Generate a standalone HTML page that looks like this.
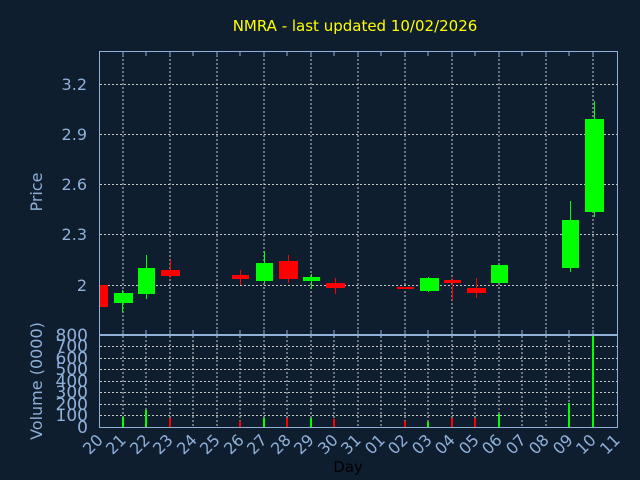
<!DOCTYPE html>
<html><head><meta charset="utf-8"><style>
html,body{margin:0;padding:0;background:#0f1e2f;}
svg{display:block;font-family:"DejaVu Sans","Liberation Sans",sans-serif;}
</style></head><body>
<svg width="640" height="480" xmlns="http://www.w3.org/2000/svg">
<rect width="640" height="480" fill="#0f1e2f"/>
<text x="355" y="31" fill="#ffff00" font-size="15" text-anchor="middle">NMRA - last updated 10/02/2026</text>
<g stroke="#c8c8c8" stroke-width="1" stroke-dasharray="2,2" fill="none">
<line x1="100" x2="617" y1="84.5" y2="84.5"/>
<line x1="100" x2="617" y1="134.5" y2="134.5"/>
<line x1="100" x2="617" y1="184.5" y2="184.5"/>
<line x1="100" x2="617" y1="234.5" y2="234.5"/>
<line x1="100" x2="617" y1="285.5" y2="285.5"/>
<line x1="123" x2="123" y1="51" y2="334"/>
<line x1="170" x2="170" y1="51" y2="334"/>
<line x1="217" x2="217" y1="51" y2="334"/>
<line x1="264" x2="264" y1="51" y2="334"/>
<line x1="311" x2="311" y1="51" y2="334"/>
<line x1="358" x2="358" y1="51" y2="334"/>
<line x1="405" x2="405" y1="51" y2="334"/>
<line x1="452" x2="452" y1="51" y2="334"/>
<line x1="499" x2="499" y1="51" y2="334"/>
<line x1="546" x2="546" y1="51" y2="334"/>
<line x1="593" x2="593" y1="51" y2="334"/>
</g>
<g stroke="#c8c8c8" stroke-width="1" stroke-dasharray="2,2" fill="none">
<line x1="100" x2="617" y1="346.5" y2="346.5"/>
<line x1="100" x2="617" y1="358.5" y2="358.5"/>
<line x1="100" x2="617" y1="369.5" y2="369.5"/>
<line x1="100" x2="617" y1="381.5" y2="381.5"/>
<line x1="100" x2="617" y1="392.5" y2="392.5"/>
<line x1="100" x2="617" y1="404.5" y2="404.5"/>
<line x1="100" x2="617" y1="415.5" y2="415.5"/>
</g>
<g stroke="#c8c8c8" stroke-dasharray="2,2">
<line x1="123" x2="123" y1="336" y2="427"/><line x1="146" x2="146" y1="336" y2="427"/><line x1="170" x2="170" y1="336" y2="427"/><line x1="193" x2="193" y1="336" y2="427"/><line x1="217" x2="217" y1="336" y2="427"/><line x1="240" x2="240" y1="336" y2="427"/><line x1="264" x2="264" y1="336" y2="427"/><line x1="287" x2="287" y1="336" y2="427"/><line x1="311" x2="311" y1="336" y2="427"/><line x1="334" x2="334" y1="336" y2="427"/><line x1="358" x2="358" y1="336" y2="427"/><line x1="381" x2="381" y1="336" y2="427"/><line x1="405" x2="405" y1="336" y2="427"/><line x1="428" x2="428" y1="336" y2="427"/><line x1="452" x2="452" y1="336" y2="427"/><line x1="475" x2="475" y1="336" y2="427"/><line x1="499" x2="499" y1="336" y2="427"/><line x1="522" x2="522" y1="336" y2="427"/><line x1="546" x2="546" y1="336" y2="427"/><line x1="569" x2="569" y1="336" y2="427"/><line x1="593" x2="593" y1="336" y2="427"/>
</g>
<g>
<rect x="100" y="285" width="8" height="22" fill="#ff0000"/>
<line x1="122.5" x2="122.5" y1="290" y2="312" stroke="#00ff00"/><rect x="114" y="293" width="19" height="10" fill="#00ff00"/>
<line x1="146.5" x2="146.5" y1="255" y2="299" stroke="#00ff00"/><rect x="138" y="268" width="17" height="26" fill="#00ff00"/>
<line x1="170.5" x2="170.5" y1="260" y2="278" stroke="#ff0000"/><rect x="161" y="270" width="19" height="6" fill="#ff0000"/>
<line x1="240.5" x2="240.5" y1="270" y2="285" stroke="#ff0000"/><rect x="232" y="275" width="17" height="4" fill="#ff0000"/>
<line x1="264.5" x2="264.5" y1="251" y2="283" stroke="#00ff00"/><rect x="256" y="263" width="17" height="18" fill="#00ff00"/>
<line x1="288.5" x2="288.5" y1="255" y2="283" stroke="#ff0000"/><rect x="279" y="261" width="19" height="18" fill="#ff0000"/>
<line x1="311.5" x2="311.5" y1="274" y2="289" stroke="#00ff00"/><rect x="303" y="277" width="17" height="4" fill="#00ff00"/>
<line x1="335.5" x2="335.5" y1="278" y2="294" stroke="#ff0000"/><rect x="326" y="283" width="19" height="5" fill="#ff0000"/>
<rect x="397" y="287" width="17" height="2" fill="#ff0000"/>
<line x1="428.5" x2="428.5" y1="277" y2="292" stroke="#00ff00"/><rect x="420" y="278" width="19" height="13" fill="#00ff00"/>
<line x1="452.5" x2="452.5" y1="278" y2="300" stroke="#ff0000"/><rect x="444" y="280" width="17" height="3" fill="#ff0000"/>
<line x1="476.5" x2="476.5" y1="278" y2="298" stroke="#ff0000"/><rect x="467" y="288" width="19" height="5" fill="#ff0000"/>
<rect x="491" y="265" width="17" height="18" fill="#00ff00"/>
<line x1="570.5" x2="570.5" y1="201" y2="272" stroke="#00ff00"/><rect x="562" y="220" width="17" height="48" fill="#00ff00"/>
<line x1="594.5" x2="594.5" y1="101" y2="217" stroke="#00ff00"/><rect x="585" y="119" width="19" height="93" fill="#00ff00"/>
</g>
<g>
<rect x="122" y="417" width="2" height="10" fill="#00ff00"/>
<rect x="145" y="410" width="2" height="17" fill="#00ff00"/>
<rect x="169" y="418" width="2" height="9" fill="#ff0000"/>
<rect x="239" y="421" width="2" height="6" fill="#ff0000"/>
<rect x="263" y="418" width="2" height="9" fill="#00ff00"/>
<rect x="286" y="418" width="2" height="9" fill="#ff0000"/>
<rect x="310" y="418" width="2" height="9" fill="#00ff00"/>
<rect x="333" y="419" width="2" height="8" fill="#ff0000"/>
<rect x="404" y="421" width="2" height="6" fill="#ff0000"/>
<rect x="427" y="422" width="2" height="5" fill="#00ff00"/>
<rect x="451" y="418" width="2" height="9" fill="#ff0000"/>
<rect x="474" y="418" width="2" height="9" fill="#ff0000"/>
<rect x="498" y="414" width="2" height="13" fill="#00ff00"/>
<rect x="568" y="403" width="2" height="24" fill="#00ff00"/>
<rect x="592" y="336" width="2" height="91" fill="#00ff00"/>
</g>
<rect x="99.5" y="51.5" width="518" height="283" fill="none" stroke="#8fb0d8"/>
<rect x="99.5" y="335.5" width="518" height="92" fill="none" stroke="#8fb0d8"/>
<g stroke="#8fb0d8">
<path d="M123 52v4M146 52v4M170 52v4M193 52v4M217 52v4M240 52v4M264 52v4M287 52v4M311 52v4M334 52v4M358 52v4M381 52v4M405 52v4M428 52v4M452 52v4M475 52v4M499 52v4M522 52v4M546 52v4M569 52v4M593 52v4"/>
<path d="M123 334v-4M146 334v-4M170 334v-4M193 334v-4M217 334v-4M240 334v-4M264 334v-4M287 334v-4M311 334v-4M334 334v-4M358 334v-4M381 334v-4M405 334v-4M428 334v-4M452 334v-4M475 334v-4M499 334v-4M522 334v-4M546 334v-4M569 334v-4M593 334v-4"/>
</g>
<g fill="#8fb0d8" font-size="16" text-anchor="end">
<text x="87" y="90">3.2</text><text x="87" y="140">2.9</text><text x="87" y="190">2.6</text><text x="87" y="240">2.3</text><text x="87" y="291">2</text>
</g>
<g fill="#8fb0d8" font-size="17" text-anchor="end">
<text x="88" y="341">800</text><text x="88" y="352">700</text><text x="88" y="364">600</text><text x="88" y="375">500</text><text x="88" y="387">400</text><text x="88" y="398">300</text><text x="88" y="410">200</text><text x="88" y="421">100</text><text x="88" y="433">0</text>
</g>
<text transform="translate(42,192) rotate(-90)" fill="#8fb0d8" font-size="16" text-anchor="middle">Price</text>
<text transform="translate(42,381) rotate(-90)" fill="#8fb0d8" font-size="16" text-anchor="middle">Volume (0000)</text>
<g fill="#8fb0d8" font-size="16">
<text transform="translate(104,441) rotate(-45)" text-anchor="end">20</text>
<text transform="translate(127,441) rotate(-45)" text-anchor="end">21</text>
<text transform="translate(151,441) rotate(-45)" text-anchor="end">22</text>
<text transform="translate(174,441) rotate(-45)" text-anchor="end">23</text>
<text transform="translate(198,441) rotate(-45)" text-anchor="end">24</text>
<text transform="translate(221,441) rotate(-45)" text-anchor="end">25</text>
<text transform="translate(245,441) rotate(-45)" text-anchor="end">26</text>
<text transform="translate(268,441) rotate(-45)" text-anchor="end">27</text>
<text transform="translate(292,441) rotate(-45)" text-anchor="end">28</text>
<text transform="translate(315,441) rotate(-45)" text-anchor="end">29</text>
<text transform="translate(339,441) rotate(-45)" text-anchor="end">30</text>
<text transform="translate(362,441) rotate(-45)" text-anchor="end">31</text>
<text transform="translate(386,441) rotate(-45)" text-anchor="end">01</text>
<text transform="translate(409,441) rotate(-45)" text-anchor="end">02</text>
<text transform="translate(433,441) rotate(-45)" text-anchor="end">03</text>
<text transform="translate(456,441) rotate(-45)" text-anchor="end">04</text>
<text transform="translate(480,441) rotate(-45)" text-anchor="end">05</text>
<text transform="translate(503,441) rotate(-45)" text-anchor="end">06</text>
<text transform="translate(527,441) rotate(-45)" text-anchor="end">07</text>
<text transform="translate(550,441) rotate(-45)" text-anchor="end">08</text>
<text transform="translate(574,441) rotate(-45)" text-anchor="end">09</text>
<text transform="translate(597,441) rotate(-45)" text-anchor="end">10</text>
<text transform="translate(621,441) rotate(-45)" text-anchor="end">11</text>
</g>
<text x="348" y="472" fill="#000000" font-size="15" text-anchor="middle">Day</text>
</svg>
</body></html>
